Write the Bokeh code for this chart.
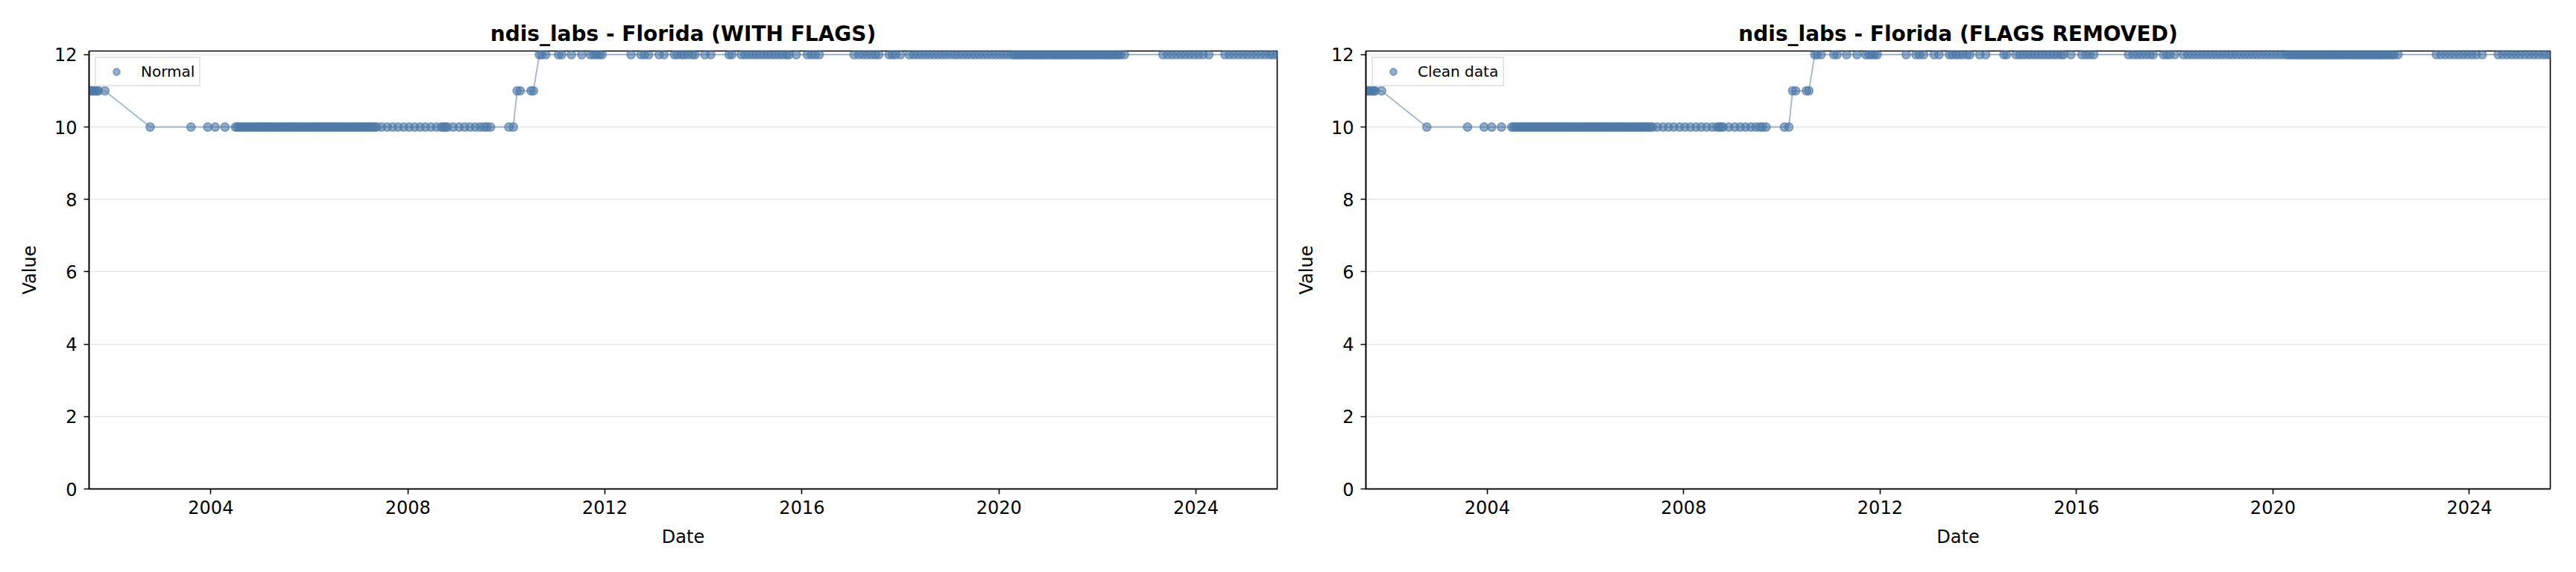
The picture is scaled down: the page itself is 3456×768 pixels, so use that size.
import pandas as pd
from bokeh.plotting import figure
from bokeh.layouts import row
from bokeh.models import ColumnDataSource, FixedTicker, DatetimeTickFormatter, Range1d
from bokeh.embed import file_html
from bokeh.resources import INLINE

# ---------------- data ----------------
dates_11_early = ["2001-07-12", "2001-07-24", "2001-08-05", "2001-08-17", "2001-08-29",
                  "2001-09-10", "2001-09-18", "2001-11-06"]

dates_10 = [
    "2002-10-08", "2003-08-07", "2003-12-09", "2004-02-02", "2004-04-15",
    "2004-07-01", "2004-07-16", "2004-08-01", "2004-08-16", "2004-09-01", "2004-09-16",
    "2004-10-01", "2004-10-16", "2004-11-01", "2004-11-16", "2004-12-01", "2004-12-16",
    "2005-01-01", "2005-01-16", "2005-02-01", "2005-02-16", "2005-03-01", "2005-03-16",
    "2005-04-01", "2005-04-16", "2005-05-01", "2005-05-16", "2005-06-01", "2005-06-16",
    "2005-07-01", "2005-07-16", "2005-08-01", "2005-08-16", "2005-09-01", "2005-09-16",
    "2005-10-01", "2005-10-16", "2005-11-01", "2005-11-16", "2005-12-01", "2005-12-16",
    "2006-01-01", "2006-01-16", "2006-02-01", "2006-02-16", "2006-03-01", "2006-03-16",
    "2006-04-01", "2006-04-16", "2006-05-01", "2006-05-16", "2006-06-01", "2006-06-16",
    "2006-07-01", "2006-07-16", "2006-08-01", "2006-08-16", "2006-09-01", "2006-09-16",
    "2006-10-01", "2006-10-16", "2006-11-01", "2006-11-16", "2006-12-01", "2006-12-16",
    "2007-01-01", "2007-01-16", "2007-02-01", "2007-02-16", "2007-03-01", "2007-03-16",
    "2007-04-01", "2007-04-16", "2007-05-01", "2007-05-16",
    "2007-06-20", "2007-08-01", "2007-09-10", "2007-10-20", "2007-12-01",
    "2008-01-10", "2008-02-20", "2008-04-01", "2008-05-10", "2008-06-20", "2008-08-01",
    "2008-09-05", "2008-09-20", "2008-10-05", "2008-10-20", "2008-12-01",
    "2009-01-15", "2009-02-25", "2009-04-05", "2009-05-15", "2009-06-20", "2009-07-20",
    "2009-08-10", "2009-09-05",
    "2010-01-19", "2010-02-21",
]

dates_11_mid = ["2010-03-21", "2010-04-13", "2010-07-02", "2010-07-20"]

dates_12 = [
    "2010-09-02", "2010-09-20", "2010-10-19",
    "2011-01-22", "2011-02-14", "2011-04-27", "2011-07-13",
    "2011-09-16", "2011-10-10", "2011-11-01", "2011-11-22", "2011-12-10",
    "2012-07-13", "2012-09-24", "2012-10-20", "2012-11-20",
    "2013-02-06", "2013-03-14", "2013-05-30", "2013-06-21", "2013-07-20", "2013-08-10",
    "2013-09-06", "2013-10-10", "2013-10-30",
    "2014-01-11", "2014-02-24", "2014-07-10", "2014-07-30",
    "2014-10-08", "2014-11-05", "2014-12-03", "2015-01-01", "2015-01-28", "2015-02-25",
    "2015-03-25", "2015-04-22", "2015-05-20", "2015-06-17", "2015-07-15", "2015-08-12",
    "2015-09-09", "2015-09-27", "2015-11-20",
    "2016-02-10", "2016-03-10", "2016-04-08", "2016-05-08",
    "2017-01-22", "2017-02-25", "2017-03-28", "2017-04-28", "2017-05-30", "2017-06-30",
    "2017-07-24", "2017-10-08", "2017-11-01", "2017-11-25", "2018-01-01",
    "2018-03-07", "2018-04-07", "2018-05-07", "2018-06-07", "2018-07-07", "2018-08-07",
    "2018-09-07", "2018-10-07", "2018-11-07", "2018-12-07",
    "2019-01-07", "2019-02-07", "2019-03-07", "2019-04-07", "2019-05-07", "2019-06-07",
    "2019-07-07", "2019-08-07", "2019-09-07", "2019-10-07", "2019-11-07", "2019-12-07",
    "2020-01-07", "2020-02-07", "2020-03-07",
    "2020-04-07", "2020-04-22", "2020-05-07", "2020-05-22", "2020-06-07", "2020-06-22",
    "2020-07-07", "2020-07-22", "2020-08-07", "2020-08-22", "2020-09-07", "2020-09-22",
    "2020-10-07", "2020-10-22", "2020-11-07", "2020-11-22", "2020-12-07", "2020-12-22",
    "2021-01-07", "2021-01-22", "2021-02-07", "2021-02-22", "2021-03-07", "2021-03-22",
    "2021-04-07", "2021-04-22", "2021-05-07", "2021-05-22", "2021-06-07", "2021-06-22",
    "2021-07-07", "2021-07-22", "2021-08-07", "2021-08-22", "2021-09-07", "2021-09-22",
    "2021-10-07", "2021-10-22", "2021-11-07", "2021-11-22", "2021-12-07", "2021-12-22",
    "2022-01-07", "2022-01-22", "2022-02-07", "2022-02-22", "2022-03-07", "2022-03-22",
    "2022-04-07", "2022-04-22", "2022-05-07", "2022-05-22", "2022-06-07", "2022-06-22",
    "2022-07-19",
    "2023-05-01", "2023-06-03", "2023-07-06", "2023-08-08", "2023-09-10", "2023-10-13",
    "2023-11-15", "2023-12-18", "2024-01-20", "2024-02-22", "2024-04-05",
    "2024-08-03", "2024-09-05", "2024-10-08", "2024-11-10", "2024-12-13", "2025-01-15",
    "2025-02-17", "2025-03-22", "2025-04-24", "2025-05-27", "2025-06-29", "2025-07-25",
    "2025-08-25",
]

date_groups = [dates_11_early, dates_10, dates_11_mid, dates_12]
group_values = [11, 10, 11, 12]

x_tick_years = [2004, 2008, 2012, 2016, 2020, 2024]
y_ticks = [0, 2, 4, 6, 8, 10, 12]
y_max = 12.1

titles = ["ndis_labs - Florida (WITH FLAGS)", "ndis_labs - Florida (FLAGS REMOVED)"]
legend_labels = ["Normal", "Clean data"]

# ---------------- build table ----------------
rows = []
for dl, v in zip(date_groups, group_values):
    for d in dl:
        rows.append((pd.Timestamp(d), v))
df = pd.DataFrame(rows, columns=["date", "value"]).sort_values("date").reset_index(drop=True)

COLOR = "#4E79A7"
FONT = "DejaVu Sans"


def make_fig(title, legend_label, width, border_left, border_right):
    src = ColumnDataSource(df)
    p = figure(width=width, height=760, x_axis_type="datetime",
               output_backend="svg", toolbar_location=None,
               x_range=Range1d(df["date"].min(), df["date"].max()),
               y_range=Range1d(0, y_max),
               min_border_left=border_left, min_border_right=border_right,
               min_border_top=68, min_border_bottom=104)
    p.line("date", "value", source=src, line_color=COLOR, line_alpha=0.5, line_width=2)
    p.scatter("date", "value", source=src, size=11, fill_color=COLOR, fill_alpha=0.6,
              line_color=COLOR, line_alpha=0.6, line_width=2, legend_label=legend_label)

    p.title.text = title
    p.title.align = "center"
    p.title.text_font = FONT
    p.title.text_font_size = "28px"
    p.title.text_font_style = "bold"
    p.title.text_color = "black"
    p.title.standoff = 14

    p.xaxis.ticker = FixedTicker(ticks=[pd.Timestamp(f"{y}-01-01").value / 1e6 for y in x_tick_years])
    p.xaxis.formatter = DatetimeTickFormatter(years="%Y", months="%Y", days="%Y")
    p.yaxis.ticker = FixedTicker(ticks=y_ticks)
    p.xaxis.axis_label = "Date"
    p.yaxis.axis_label = "Value"

    for ax in (p.xaxis, p.yaxis):
        ax.axis_label_text_font = FONT
        ax.axis_label_text_font_size = "24px"
        ax.axis_label_text_font_style = "normal"
        ax.axis_label_text_color = "black"
        ax.major_label_text_font = FONT
        ax.major_label_text_font_size = "24px"
        ax.major_label_text_color = "black"
        ax.axis_line_color = "black"
        ax.axis_line_width = 1.6
        ax.major_tick_line_color = "black"
        ax.major_tick_line_width = 1.6
        ax.major_tick_out = 7
        ax.major_tick_in = 0
        ax.minor_tick_out = 0
        ax.minor_tick_in = 0
    p.xaxis.major_label_standoff = 8
    p.xaxis.axis_label_standoff = 14
    p.yaxis.major_label_standoff = 9
    p.yaxis.axis_label_standoff = 16

    p.xgrid.visible = False
    p.ygrid.grid_line_color = "#b0b0b0"
    p.ygrid.grid_line_alpha = 0.3
    p.ygrid.grid_line_width = 1.6

    p.outline_line_color = "black"
    p.outline_line_width = 1.6
    p.outline_line_alpha = 1.0
    p.background_fill_color = "white"
    p.border_fill_color = "white"

    lg = p.legend[0]
    lg.location = "top_left"
    lg.margin = 8
    lg.padding = 6
    lg.glyph_width = 42
    lg.glyph_height = 22
    lg.label_standoff = 12
    lg.label_text_font = FONT
    lg.label_text_font_size = "20px"
    lg.label_text_color = "black"
    lg.border_line_color = "#cccccc"
    lg.border_line_width = 2
    lg.background_fill_alpha = 0.8
    return p


p1 = make_fig(titles[0], legend_labels[0], 1728, 119, 15)
p2 = make_fig(titles[1], legend_labels[1], 1720, 104, 27)

layout = row(p1, p2)
open("out.html", "w").write(file_html(layout, INLINE))
